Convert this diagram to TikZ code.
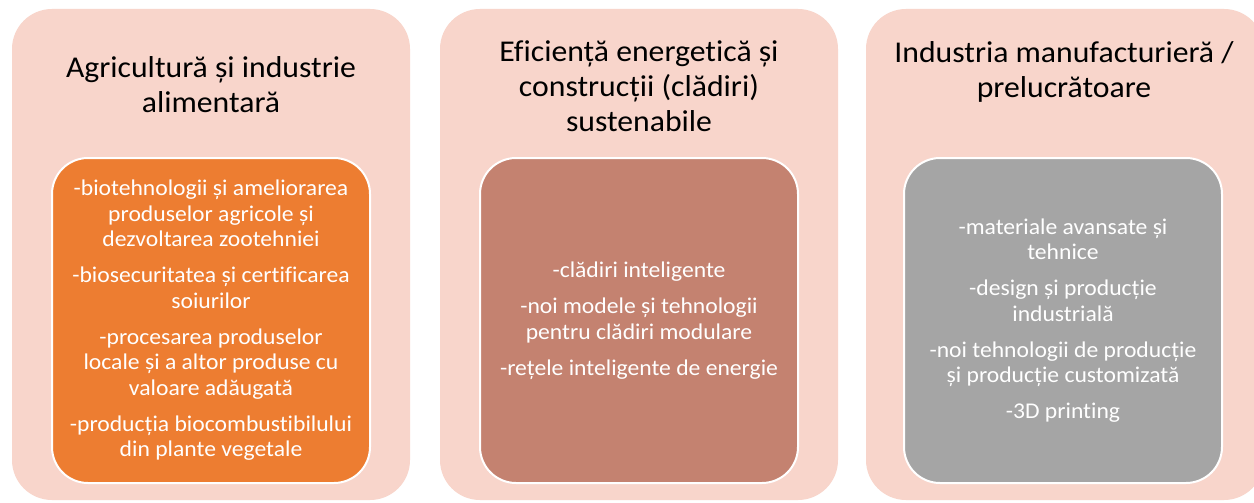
\documentclass[tikz,border=0pt]{standalone}
\usepackage{fontspec}
\setmainfont{Carlito}[FakeStretch=1.05, Ligatures=NoCommon]
\usepackage{xcolor}
\usepackage{tikz}

\definecolor{peach}{HTML}{F8D5CB}
\definecolor{accorange}{HTML}{ED7D31}
\definecolor{accbrown}{HTML}{C48270}
\definecolor{accgray}{HTML}{A5A5A5}

\tikzset{
  panel/.style={fill=peach, draw=none, rounded corners=40pt,
    minimum width=398pt, minimum height=491pt, inner sep=0pt},
  paneltitle/.style={align=center, text=black, inner sep=0pt,
    font=\fontsize{30.2}{35}\selectfont},
  itembox/.style={draw=white, line width=2pt, rounded corners=36pt,
    minimum width=318pt, minimum height=325pt, inner sep=0pt,
    align=center, text=white, font=\fontsize{22.5}{25.5}\selectfont},
}

\begin{document}
\begin{tikzpicture}[x=1pt,y=-1pt]
\fill[white] (0,0) rectangle (1254,503);
\useasboundingbox (0,0) rectangle (1254,503);
% panels
\node (panelA) [panel] at (211,254.5) {};
\node (panelB) [panel] at (639,254.5) {};
\node (panelC) [panel] at (1065,254.5) {};
% titles
\node (titleA) [paneltitle] at (211,85) {Agricultură și industrie\\alimentară};
\node (titleB) [paneltitle] at (639,86) {Eficiență energetică și\\construcții (clădiri)\\sustenabile};
\node (titleC) [paneltitle] at (1064,72) {Industria manufacturieră /\\prelucrătoare};
% items
\node (itemsA) [itembox, fill=accorange] at (211,320.5) {-biotehnologii și ameliorarea\\produselor agricole și\\dezvoltarea zootehniei\\[10.5pt]-biosecuritatea și certificarea\\soiurilor\\[10.5pt]-procesarea produselor\\locale și a altor produse cu\\valoare adăugată\\[10.5pt]-producția biocombustibilului\\din plante vegetale};
\node (itemsB) [itembox, fill=accbrown] at (639,320.5) {-clădiri inteligente\\[10.5pt]-noi modele și tehnologii\\pentru clădiri modulare\\[10.5pt]-rețele inteligente de energie};
\node (itemsC) [itembox, fill=accgray] at (1063,320.5) {-materiale avansate și\\tehnice\\[10.5pt]-design și producție\\industrială\\[10.5pt]-noi tehnologii de producție\\și producție customizată\\[10.5pt]-3D printing};
\end{tikzpicture}
\end{document}
